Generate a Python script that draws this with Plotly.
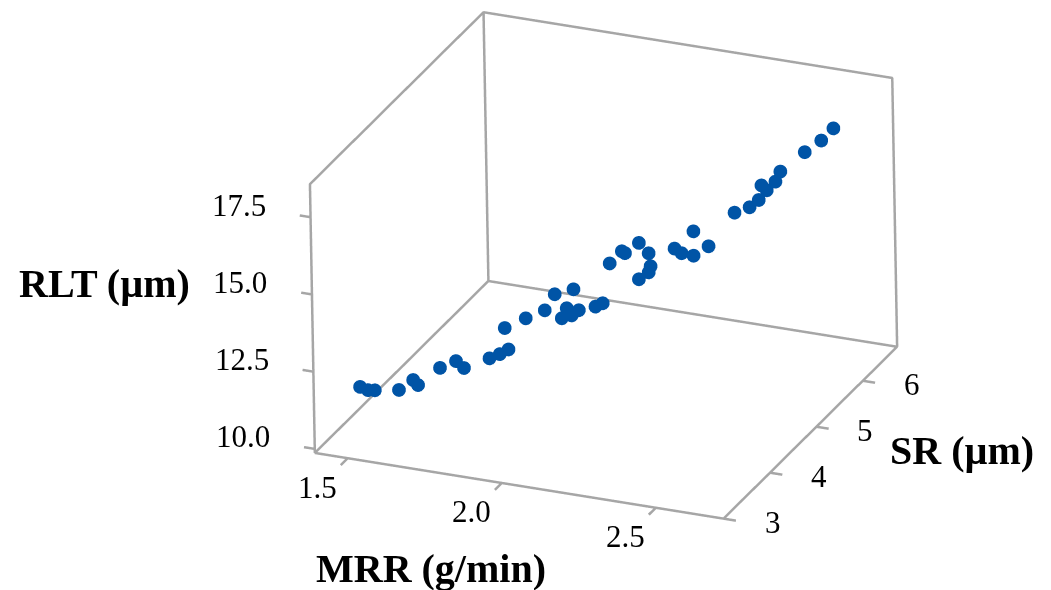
import plotly.graph_objects as go

mrr = [1.513, 1.531, 1.547, 1.601, 1.634, 1.645, 1.696, 1.733, 1.751, 1.81, 1.833, 1.854, 1.846, 1.895, 1.939, 1.963, 2.006, 1.977, 1.989, 2.0, 2.016, 2.055, 2.071, 2.09, 2.118, 2.125, 2.157, 2.179, 2.183, 2.178, 2.155, 2.239, 2.254, 2.282, 2.283, 2.316, 2.378, 2.412, 2.433, 2.452, 2.441, 2.473, 2.485, 2.541, 2.58, 2.608]
sr = [3.2, 3.25, 3.29, 3.45, 3.54, 3.57, 3.71, 3.81, 3.86, 4.02, 4.09, 4.14, 4.12, 4.25, 4.37, 4.43, 4.55, 4.48, 4.51, 4.54, 4.59, 4.69, 4.74, 4.78, 4.86, 4.88, 4.97, 5.03, 5.04, 5.03, 4.97, 5.19, 5.24, 5.31, 5.31, 5.41, 5.57, 5.67, 5.73, 5.78, 5.74, 5.83, 5.86, 6.02, 6.12, 6.2]
rlt = [11.91, 11.76, 11.72, 11.58, 11.82, 11.63, 12.06, 12.19, 11.92, 12.09, 12.16, 12.27, 12.98, 13.18, 13.33, 13.8, 13.85, 12.97, 13.27, 13.01, 13.13, 13.16, 13.22, 14.48, 14.8, 14.72, 14.97, 14.58, 14.15, 13.96, 13.79, 14.59, 14.39, 14.25, 15.04, 14.46, 15.41, 15.49, 15.67, 15.94, 16.14, 16.18, 16.48, 16.96, 17.25, 17.57]
x_range = [1.393, 2.72]
y_range = [3.0, 6.74]
z_range = [9.87, 18.57]
x_ticks = [1.5, 2.0, 2.5]
y_ticks = [3, 4, 5, 6]
z_ticks = [10.0, 12.5, 15.0, 17.5]

GRAY = "#a6a6a6"
SERIF = "Liberation Serif"
x0, x1 = x_range
y0, y1 = y_range
z0, z1 = z_range
PAD_X, PAD_Y, PAD_Z = 0.05, 0.17, 0.1
ZOOM = 1.5055

frame_x = [x0, x1, x1, x0, x0, x0, x0, x0, x0, x1, x1]
frame_y = [y0, y0, y1, y1, y0, y0, y1, y1, y1, y1, y1]
frame_z = [z0, z0, z0, z0, z0, z1, z1, z0, z1, z1, z0]

tx, ty, tz = [], [], []
for t in x_ticks:
    tx += [t, t, None]; ty += [y0, y0 - 0.15, None]; tz += [z0, z0, None]
for t in y_ticks:
    tx += [x1, x1 + 0.04, None]; ty += [t, t, None]; tz += [z0, z0, None]
for t in z_ticks:
    tx += [x0, x0 - 0.035, None]; ty += [y0, y0, None]; tz += [t, t, None]

fig = go.Figure()
fig.add_trace(go.Scatter3d(x=frame_x, y=frame_y, z=frame_z, mode="lines",
                           line=dict(color=GRAY, width=5), hoverinfo="skip", showlegend=False))
fig.add_trace(go.Scatter3d(x=tx, y=ty, z=tz, mode="lines", connectgaps=False,
                           line=dict(color=GRAY, width=5), hoverinfo="skip", showlegend=False))
fig.add_trace(go.Scatter3d(x=mrr, y=sr, z=rlt, mode="markers",
                           marker=dict(color="#0054a6", size=8, opacity=1, line=dict(width=0)),
                           showlegend=False))

def axis(rng):
    return dict(range=rng, showticklabels=False, ticks="", showgrid=False, zeroline=False,
                showbackground=False, showspikes=False, showline=False, title=dict(text=""))

def label(x, y, z, text, dx, dy):
    return dict(x=x, y=y, z=z, text=text, showarrow=False, xshift=dx, yshift=dy,
                font=dict(family=SERIF, size=31, color="black"))

labels = []
labels += [label(t, y0, z0, "%.1f" % t, -30, -29) for t in x_ticks]
labels += [label(x1, t, z0, "%d" % t, 49, -4) for t in y_ticks]
labels += [label(x0, y0, t, "%.1f" % t, -71.5, 12) for t in z_ticks]

eye_dir = (0.362, -0.835, 0.414)
EYE_LEN = 2.0
center = dict(x=-0.1997, y=-0.142, z=-0.112)

def title(text, px, py):
    return dict(text="<b>%s</b>" % text, x=px / 1051, y=1 - py / 590, xref="paper", yref="paper",
                xanchor="center", yanchor="middle", showarrow=False,
                font=dict(family=SERIF, size=40, color="black"))

fig.update_layout(
    width=1051, height=590, margin=dict(l=0, r=0, t=0, b=0), paper_bgcolor="white",
    scene=dict(
        domain=dict(x=[0, 1], y=[0, 1]),
        xaxis=axis([x0 - PAD_X, x1 + PAD_X]),
        yaxis=axis([y0 - PAD_Y, y1 + PAD_Y]),
        zaxis=axis([z0 - PAD_Z, z1 + PAD_Z]),
        aspectmode="manual",
        aspectratio=dict(x=ZOOM * (x1 - x0 + 2 * PAD_X) / (x1 - x0),
                         y=ZOOM * (y1 - y0 + 2 * PAD_Y) / (y1 - y0),
                         z=ZOOM * 0.665 * (z1 - z0 + 2 * PAD_Z) / (z1 - z0)),
        camera=dict(projection=dict(type="orthographic"),
                    eye=dict(x=center["x"] + eye_dir[0] * EYE_LEN,
                             y=center["y"] + eye_dir[1] * EYE_LEN,
                             z=center["z"] + eye_dir[2] * EYE_LEN),
                    up=dict(x=-0.148, y=0.387, z=0.910),
                    center=center),
        annotations=labels,
    ),
    annotations=[title("RLT (µm)", 96, 275), title("MRR (g/min)", 423, 560), title("SR (µm)", 954, 442)],
)
fig.write_html("out.html")
